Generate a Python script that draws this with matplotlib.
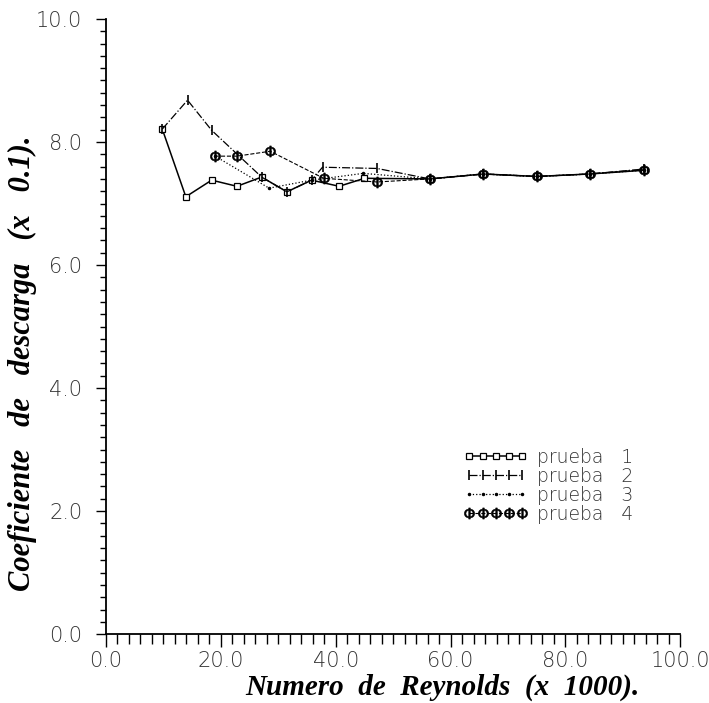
import matplotlib
matplotlib.use("Agg")
import matplotlib.pyplot as plt
from matplotlib.ticker import MultipleLocator, FormatStrFormatter

# Numero de Reynolds (x 1000) y coeficiente de descarga (x 0.1) por prueba
re_p1 = [9.8, 13.9, 18.4, 22.8, 27.1, 31.5, 35.8, 40.6, 45.0, 56.4, 65.7, 75.0, 84.2, 93.6]
cd_p1 = [8.21, 7.11, 7.38, 7.28, 7.43, 7.19, 7.38, 7.28, 7.41, 7.40, 7.48, 7.44, 7.48, 7.54]

re_p2 = [9.8, 14.2, 18.4, 27.1, 31.5, 35.8, 37.7, 47.2, 56.4, 65.7, 75.0, 84.2, 93.6]
cd_p2 = [8.21, 8.68, 8.19, 7.43, 7.19, 7.38, 7.59, 7.57, 7.40, 7.48, 7.44, 7.48, 7.56]

re_p3 = [19.0, 28.4, 35.8, 44.8, 56.4, 65.7, 75.0, 84.2, 93.6]
cd_p3 = [7.77, 7.25, 7.38, 7.49, 7.40, 7.48, 7.44, 7.48, 7.54]

re_p4 = [19.0, 22.8, 28.6, 37.9, 47.2, 56.4, 65.7, 75.0, 84.2, 93.6]
cd_p4 = [7.77, 7.77, 7.85, 7.41, 7.35, 7.40, 7.48, 7.44, 7.48, 7.55]

labels = ["prueba   1", "prueba   2", "prueba   3", "prueba   4"]

fig = plt.figure(figsize=(7.09, 7.03), dpi=100)
ax = fig.add_axes([0.1495, 0.098, 0.81, 0.875])

ax.plot(re_p1, cd_p1, color="black", lw=1.1, ls="-",
        marker="s", ms=4, mfc="white", mew=0.9, label=labels[0])
ax.plot(re_p2, cd_p2, color="black", lw=0.9, ls="-.",
        marker="|", ms=7, mew=1.2, label=labels[1])
ax.plot(re_p3, cd_p3, color="black", lw=0.9, ls=":",
        marker=".", ms=3, label=labels[2])
ax.plot(re_p4, cd_p4, color="black", lw=0.8, ls="--",
        marker=r"$\Phi$", ms=8, mew=0.4, label=labels[3])

ax.set_xlim(0, 100)
ax.set_ylim(0, 10)
ax.spines["top"].set_visible(False)
ax.spines["right"].set_visible(False)
ax.spines["left"].set_linewidth(1.3)
ax.spines["bottom"].set_linewidth(1.3)

ax.xaxis.set_major_locator(MultipleLocator(20))
ax.xaxis.set_minor_locator(MultipleLocator(2))
ax.yaxis.set_major_locator(MultipleLocator(2))
ax.yaxis.set_minor_locator(MultipleLocator(0.2))
ax.xaxis.set_major_formatter(FormatStrFormatter("%.1f"))
ax.yaxis.set_major_formatter(FormatStrFormatter("%.1f"))

ax.tick_params(axis="x", which="major", direction="out", length=9, width=1.0, pad=3)
ax.tick_params(axis="x", which="minor", direction="out", length=7, width=1.0)
ax.tick_params(axis="y", which="major", direction="out", length=7, width=1.0, pad=10)
ax.tick_params(axis="y", which="minor", direction="out", length=4, width=1.0)

for lab in ax.get_xticklabels() + ax.get_yticklabels():
    lab.set_fontfamily("DejaVu Sans")
    lab.set_fontweight("light")
    lab.set_fontsize(15)
    lab.set_color("#333333")

ax.set_xlabel("Numero  de  Reynolds  (x  1000).", fontfamily="Liberation Serif",
              fontstyle="italic", fontweight="bold", fontsize=21)
ax.set_ylabel("Coeficiente   de   descarga   (x   0.1).", fontfamily="Liberation Serif",
              fontstyle="italic", fontweight="bold", fontsize=22)
ax.xaxis.set_label_coords(0.585, -0.064)
ax.yaxis.set_label_coords(-0.12, 0.44)

leg = ax.legend(loc="upper left", bbox_to_anchor=(0.61, 0.315), frameon=False,
                numpoints=5, handlelength=3.4, handletextpad=0.5,
                labelspacing=0.0, borderaxespad=0,
                prop={"family": "DejaVu Sans", "weight": "light", "size": 13.5})
for t in leg.get_texts():
    t.set_color("#333333")

fig.savefig("out.png", dpi=100, facecolor="white")
